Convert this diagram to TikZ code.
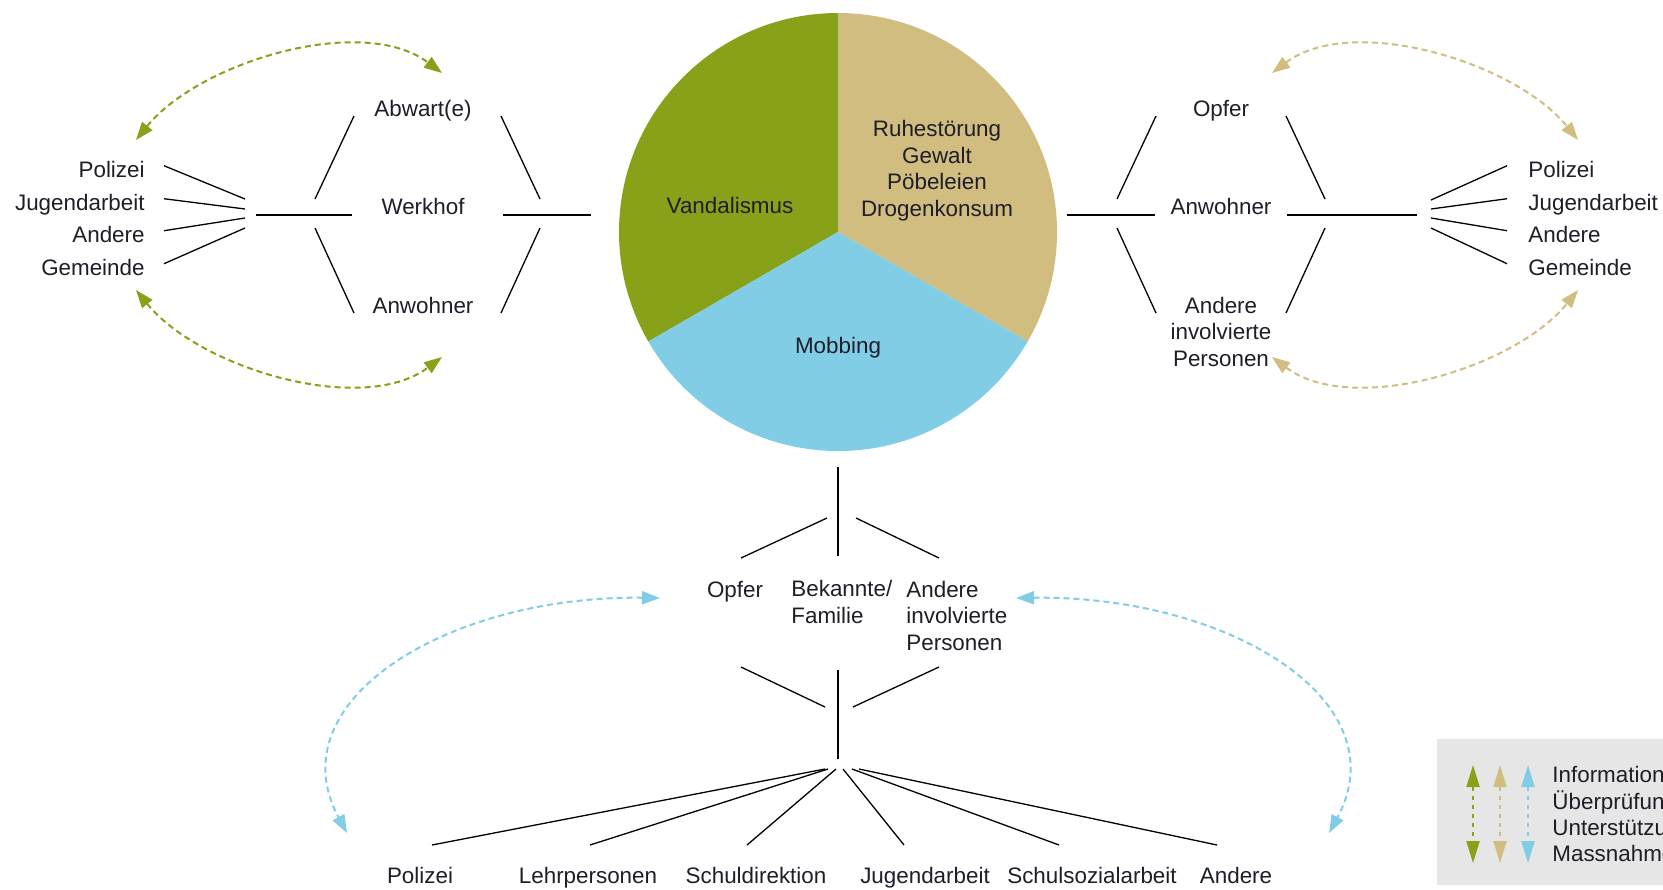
\documentclass[tikz,border=0pt]{standalone}
\usepackage{fontspec}
\setmainfont{Liberation Sans}
\usetikzlibrary{arrows.meta,calc}

\definecolor{vgreen}{RGB}{135,162,24}
\definecolor{rtan}{RGB}{209,189,128}
\definecolor{mblue}{RGB}{130,205,230}
\definecolor{legendgray}{RGB}{230,230,230}
\definecolor{ink}{RGB}{30,30,40}

\tikzset{
  lbl/.style={text=ink, inner sep=0pt, font=\fontsize{11.2}{13.25}\selectfont},
  branch/.style={line width=0.65pt, black},
  flow/.style={line width=1pt, dash pattern=on 3pt off 2pt,
    {Triangle[length=9pt,width=6.5pt]}-{Triangle[length=9pt,width=6.5pt]}},
  keyarrow/.style={line width=1pt, dash pattern=on 2pt off 2.5pt,
    {Triangle[length=11pt,width=6.5pt]}-{Triangle[length=11pt,width=6.5pt]}}
}

\begin{document}
\begin{tikzpicture}[x=0.5pt, y=-0.5pt]
  \useasboundingbox (0,0) rectangle (1663,889);

  % pie
  \coordinate (pc) at (838,232);
  \fill[vgreen] (pc) -- ++(0,-219) arc[start angle=-90, end angle=-210, radius=219] -- cycle;
  \fill[rtan] (pc) -- ++(0,-219) arc[start angle=-90, end angle=30, radius=219] -- cycle;
  \fill[mblue] (pc) -- ++(150:219) arc[start angle=150, end angle=30, radius=219] -- cycle;
  \node[lbl, anchor=base] (vand) at (730,213) {Vandalismus};
  \node[lbl, anchor=base, align=center] (ruhe) at (937,216) {Ruhestörung\\Gewalt\\Pöbeleien\\Drogenkonsum};
  \node[lbl, anchor=base] (mobb) at (838,353) {Mobbing};

  % left: Vandalismus
  \node[lbl, anchor=base east] (lpol) at (145,177) {Polizei};
  \node[lbl, anchor=base east] (ljug) at (145,210) {Jugendarbeit};
  \node[lbl, anchor=base east] (land) at (145,242) {Andere};
  \node[lbl, anchor=base east] (lgem) at (145,275) {Gemeinde};
  \node[lbl, anchor=base] (labw) at (423,116) {Abwart(e)};
  \node[lbl, anchor=base] (lwerk) at (423,214) {Werkhof};
  \node[lbl, anchor=base] (lanw) at (423,313) {Anwohner};

  \coordinate (lhub) at (245,213.5);
  \foreach \n/\dy in {lpol/-14.5,ljug/-4.5,land/4.5,lgem/14.5}
    \draw[branch] ([shift={(19,-6)}]\n.mid east) -- ($(lhub)+(0,\dy)$);
  \draw[branch] (256,215) -- (352,215);
  \draw[branch] (315,199) -- (354,116);
  \draw[branch] (315,228) -- (354,313);
  \draw[branch] (501,116) -- (540,199);
  \draw[branch] (540,228) -- (501,313);
  \draw[branch] (503,215) -- (591,215);

  \coordinate (lgA) at (136,140);
  \coordinate (lgB) at (442,73);
  \coordinate (lgC) at (136,290);
  \coordinate (lgD) at (442,357);
  \draw[flow, vgreen] (lgA) .. controls (199,62) and (362,13) .. (lgB);
  \draw[flow, vgreen] (lgC) .. controls (199,368) and (362,417) .. (lgD);

  % right: Ruhestoerung
  \node[lbl, anchor=base west] (rpol) at (1528,177) {Polizei};
  \node[lbl, anchor=base west] (rjug) at (1528,210) {Jugendarbeit};
  \node[lbl, anchor=base west] (rand) at (1528,242) {Andere};
  \node[lbl, anchor=base west] (rgem) at (1528,275) {Gemeinde};
  \node[lbl, anchor=base] (ropf) at (1221,116) {Opfer};
  \node[lbl, anchor=base] (ranw) at (1221,214) {Anwohner};
  \node[lbl, anchor=base, align=center] (rinv) at (1221,366) {Andere\\involvierte\\Personen};

  \coordinate (rhub) at (1431,214);
  \foreach \n/\dy in {rpol/-14,rjug/-5,rand/4,rgem/14}
    \draw[branch] ([shift={(-21,-6)}]\n.mid west) -- ($(rhub)+(0,\dy)$);
  \draw[branch] (1067,215) -- (1155,215);
  \draw[branch] (1117,199) -- (1156,116);
  \draw[branch] (1117,228) -- (1156,313);
  \draw[branch] (1286,116) -- (1325,199);
  \draw[branch] (1325,228) -- (1286,313);
  \draw[branch] (1287,215) -- (1417,215);

  \coordinate (rtA) at (1272,73);
  \coordinate (rtB) at (1578,140);
  \coordinate (rtC) at (1272,357);
  \coordinate (rtD) at (1578,290);
  \draw[flow, rtan] (rtA) .. controls (1352,13) and (1515,62) .. (rtB);
  \draw[flow, rtan] (rtC) .. controls (1352,417) and (1515,368) .. (rtD);

  % bottom: Mobbing
  \node[lbl, anchor=base] (mopf) at (735,597) {Opfer};
  \node[lbl, anchor=base west, align=left] (mbek) at (791,623) {Bekannte/\\Familie};
  \node[lbl, anchor=base west, align=left] (minv) at (906,650) {Andere\\involvierte\\Personen};

  \draw[branch] (838,467) -- (838,556);
  \draw[branch] (827,518) -- (741,558);
  \draw[branch] (856,518) -- (939,558);
  \draw[branch] (741,667) -- (825,707);
  \draw[branch] (939,667) -- (853,707);
  \draw[branch] (838,670) -- (838,759);

  \node[lbl, anchor=base] (bpol) at (420,883) {Polizei};
  \node[lbl, anchor=base] (blehr) at (588,883) {Lehrpersonen};
  \node[lbl, anchor=base] (bdir) at (756,883) {Schuldirektion};
  \node[lbl, anchor=base] (bjug) at (925,883) {Jugendarbeit};
  \node[lbl, anchor=base] (bsoz) at (1092,883) {Schulsozialarbeit};
  \node[lbl, anchor=base] (band) at (1236,883) {Andere};

  \coordinate (bhub) at (838,769);
  \foreach \dx/\ex in {-13/432,-10/590,-2/747,5/904,14/1059,21/1217}
    \draw[branch] ($(bhub)+(\dx,0)$) -- (\ex,845);

  \coordinate (mbA) at (660,598);
  \coordinate (mbB) at (347,833);
  \coordinate (mbC) at (1016,598);
  \coordinate (mbD) at (1329,833);
  \draw[flow, mblue] (mbA) .. controls (450,595) and (275,700) .. (mbB);
  \draw[flow, mblue] (mbC) .. controls (1226,595) and (1401,700) .. (mbD);

  % legend
  \fill[legendgray] (1437,739) rectangle (1680,885);
  \draw[keyarrow, vgreen] (1473,765) -- (1473,863);
  \draw[keyarrow, rtan] (1500,765) -- (1500,863);
  \draw[keyarrow, mblue] (1528,765) -- (1528,863);
  \node[lbl, anchor=base west] (kinf) at (1552,782) {Information};
  \node[lbl, anchor=base west] (kpruf) at (1552,809) {Überprüfung};
  \node[lbl, anchor=base west] (kunt) at (1552,835) {Unterstützung};
  \node[lbl, anchor=base west] (kmass) at (1552,861) {Massnahmen};
\end{tikzpicture}
\end{document}
